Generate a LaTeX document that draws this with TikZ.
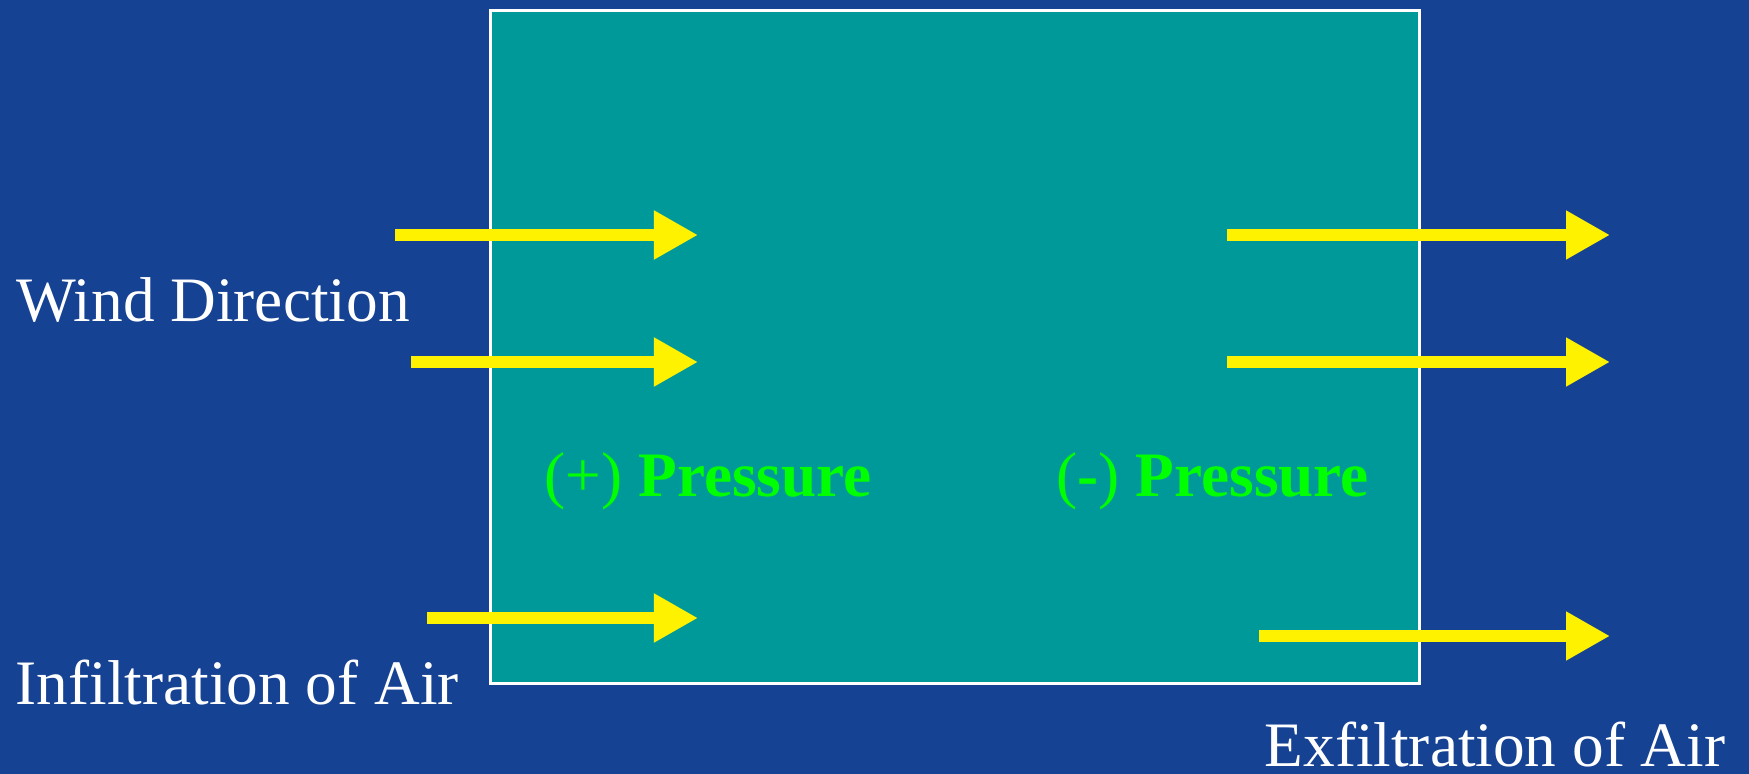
\documentclass[tikz,border=0pt]{standalone}
\usepackage{fontspec}
\setmainfont{Liberation Serif}
\usetikzlibrary{arrows.meta}
\definecolor{bgblue}{RGB}{22,66,148}
\definecolor{wallteal}{RGB}{0,153,153}
\definecolor{presgreen}{RGB}{0,255,0}
\tikzset{
  wind/.style={draw=yellow, line width=3.4pt, -{Triangle[length=0.44cm,width=0.46cm]}},
  sidetext/.style={text=white, font=\fontsize{18}{20}\selectfont, anchor=base west, inner sep=0pt},
  prestext/.style={sidetext, text=presgreen},
  building/.style={draw=white, line width=0.85pt, fill=wallteal, inner sep=0pt,
    minimum width=9.28cm, minimum height=6.72cm},
}
\begin{document}
\begin{tikzpicture}[x=0.01cm,y=-0.01cm]
\fill[bgblue] (0,0) rectangle (1749,774);
\useasboundingbox (0,0) rectangle (1749,774);

\node[building] (bldg) at (955,347) {};

\node[sidetext] (wind) at (16,322) {Wind Direction};
\node[sidetext] (infil) at (15,705) {Infiltration of Air};
\node[sidetext] (exfil) at (1264,767) {Exfiltration of Air};
\node[prestext] (pplus) at (544,497) {(+) \textbf{Pressure}};
\node[prestext] (pminus) at (1056,497) {(\textbf{-}) \textbf{Pressure}};

% air in on the windward side, out on the lee side
\foreach \n/\xa/\xb/\y in {i1/395/698/235, i2/411/698/362, i3/427/698/618,
                           o1/1227/1610/235, o2/1227/1610/362, o3/1259/1610/636} {
  \coordinate (\n s) at (\xa,\y);
  \coordinate (\n e) at (\xb,\y);
  \path[wind] (\n s) -- (\n e);
}
\end{tikzpicture}
\end{document}
